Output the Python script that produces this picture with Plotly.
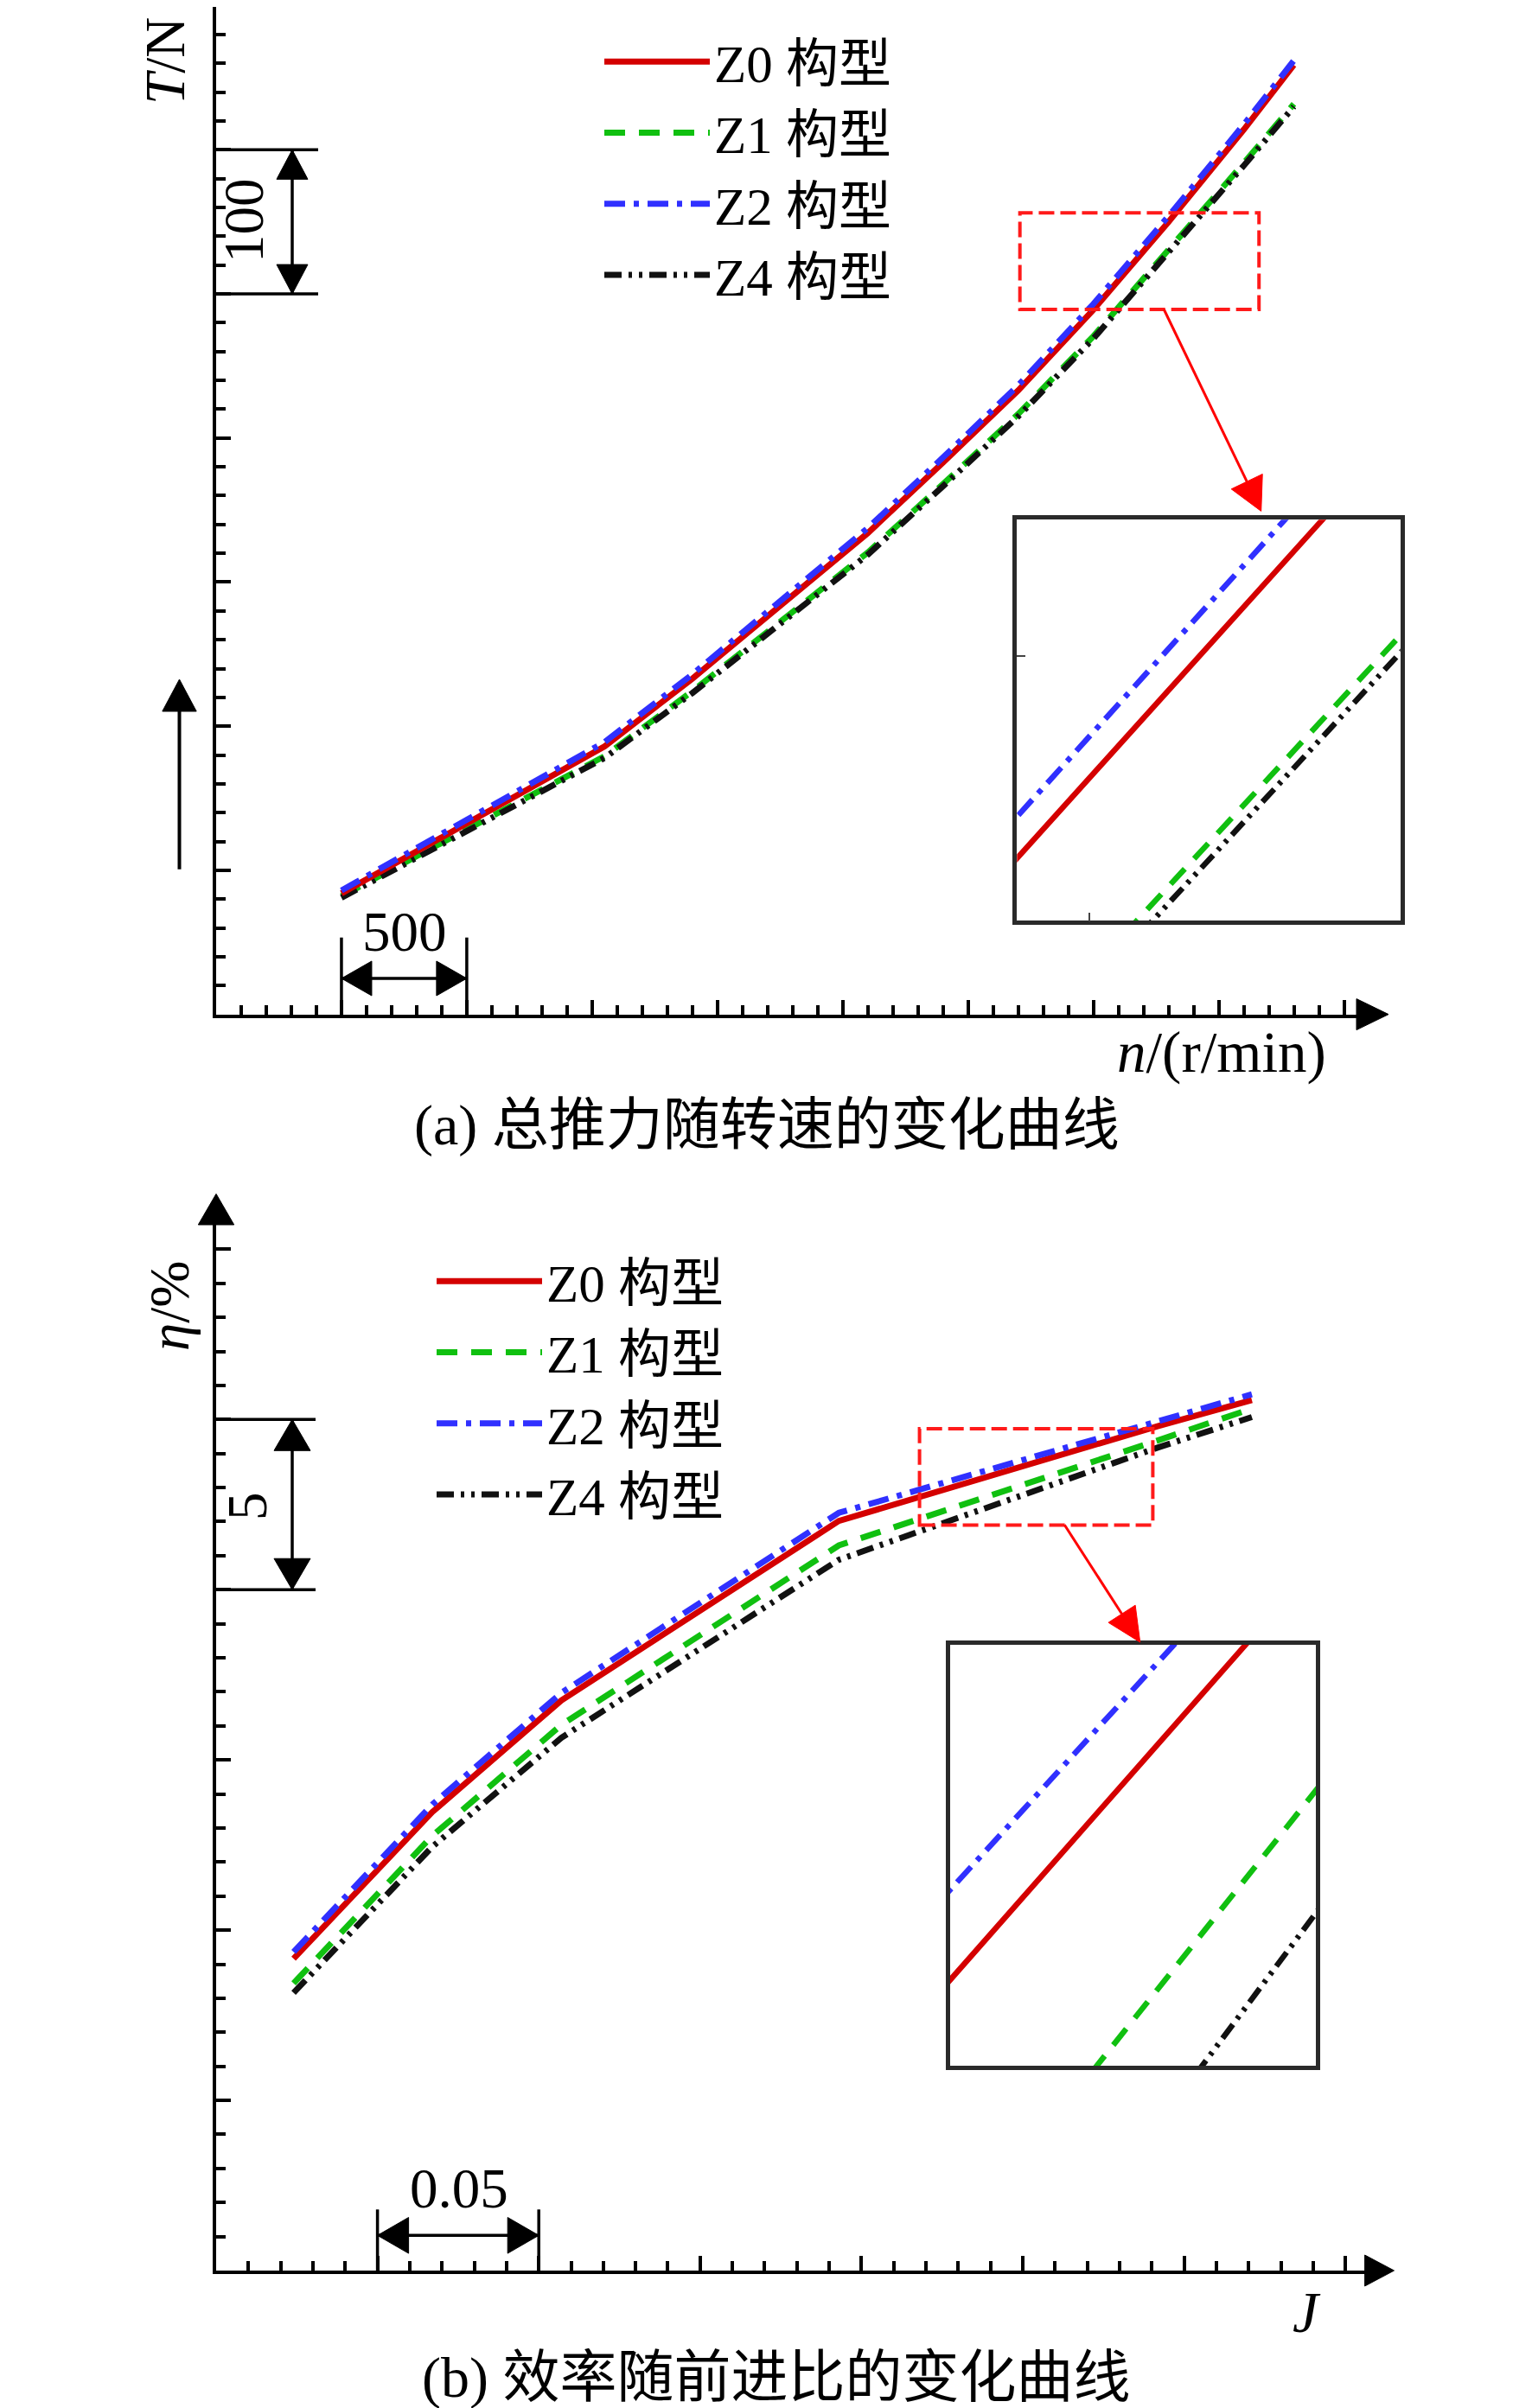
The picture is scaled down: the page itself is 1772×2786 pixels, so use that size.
import math
import plotly.graph_objects as go

# ---------------- data (a): total thrust vs rotational speed ----------------
n_rpm = [1000, 1500, 2050, 2400, 3100, 3400, 3700, 4000, 4300, 4600, 4800]
T_Z0 = [84, 132, 186, 233, 334, 383, 433, 489, 550, 614, 659]
T_Z1 = [82, 128, 179.2, 224.3, 320.5, 368, 416.6, 470.6, 530.2, 590.8, 631.8]
T_Z2 = [86, 134.5, 189, 236, 337.5, 386.5, 436.5, 493, 554, 617.5, 662]
T_Z4 = [81, 127, 178, 223, 319, 366.5, 415, 469, 528.5, 589, 630]

# ---------------- data (b): efficiency vs advance ratio ----------------
J_adv = [0.124, 0.167, 0.207, 0.293, 0.392, 0.421]
eta_Z0 = [44.16, 48.47, 51.75, 57.02, 59.81, 60.57]
eta_Z1 = [43.44, 47.77, 51.03, 56.30, 59.39, 60.32]
eta_Z2 = [44.36, 48.69, 51.97, 57.26, 59.95, 60.74]
eta_Z4 = [43.16, 47.45, 50.65, 55.88, 59.18, 60.07]

names = ["Z0 构型", "Z1 构型", "Z2 构型", "Z4 构型"]
caption_a = "(a) 总推力随转速的变化曲线"
caption_b = "(b) 效率随前进比的变化曲线"

# ---------------- helpers ----------------
W, H = 1772, 2786
def px(x):
    return x / W
def py(y):
    return 1 - y / H

FONT = "'Liberation Serif', 'Times New Roman', 'Noto Sans CJK SC', serif"
FS = 65
LEG_FS = 61

styles = {
    "Z0 构型": dict(color="#d40000", dash="solid", rank=1),
    "Z1 构型": dict(color="#10c010", dash="24px,16px", rank=2),
    "Z2 构型": dict(color="#3030ff", dash="24px,10px,6px,10px", rank=3),
    "Z4 构型": dict(color="#111111", dash="20px,8px,4px,8px,4px,8px", rank=4),
}

top_series = {"Z0 构型": T_Z0, "Z1 构型": T_Z1, "Z2 构型": T_Z2, "Z4 构型": T_Z4}
bot_series = {"Z0 构型": eta_Z0, "Z1 构型": eta_Z1, "Z2 构型": eta_Z2, "Z4 构型": eta_Z4}
draw_order = ["Z1 构型", "Z4 构型", "Z0 构型", "Z2 构型"]

fig = go.Figure()
for nm in draw_order:
    st = styles[nm]
    fig.add_trace(go.Scatter(x=n_rpm, y=top_series[nm], mode="lines", name=nm,
                             line=dict(color=st["color"], dash=st["dash"], width=7),
                             xaxis="x", yaxis="y", legend="legend", legendrank=st["rank"]))
for nm in draw_order:
    st = styles[nm]
    fig.add_trace(go.Scatter(x=J_adv, y=bot_series[nm], mode="lines", name=nm,
                             line=dict(color=st["color"], dash=st["dash"], width=7),
                             xaxis="x2", yaxis="y2", legend="legend2", legendrank=st["rank"]))
# insets (zoomed views of the same data)
for nm in draw_order:
    st = styles[nm]
    fig.add_trace(go.Scatter(x=n_rpm, y=top_series[nm], mode="lines", name=nm, showlegend=False,
                             line=dict(color=st["color"], dash=st["dash"], width=6.5),
                             xaxis="x3", yaxis="y3"))
for nm in draw_order:
    st = styles[nm]
    fig.add_trace(go.Scatter(x=J_adv, y=bot_series[nm], mode="lines", name=nm, showlegend=False,
                             line=dict(color=st["color"], dash=st["dash"], width=6.5),
                             xaxis="x4", yaxis="y4"))

shapes = []
annotations = []

def seg_paper(x0, y0, x1, y1, color="black", width=3.5):
    shapes.append(dict(type="line", xref="paper", yref="paper", x0=px(x0), y0=py(y0),
                       x1=px(x1), y1=py(y1), line=dict(color=color, width=width), layer="above"))

def head_paper(tx, ty, bx, by, half, color="black"):
    dx, dy = tx - bx, ty - by
    L = math.hypot(dx, dy)
    nx, ny = -dy / L, dx / L
    pts = [(tx, ty), (bx + nx * half, by + ny * half), (bx - nx * half, by - ny * half)]
    path = "M " + " L ".join(f"{px(a):.6f},{py(b):.6f}" for a, b in pts) + " Z"
    shapes.append(dict(type="path", xref="paper", yref="paper", path=path,
                       fillcolor=color, line=dict(color=color, width=1), layer="above"))

def arrow_paper(x0, y0, x1, y1, head_len, half, color="black", width=3.5):
    dx, dy = x1 - x0, y1 - y0
    L = math.hypot(dx, dy)
    bx, by = x1 - dx / L * head_len, y1 - dy / L * head_len
    seg_paper(x0, y0, bx, by, color, width)
    head_paper(x1, y1, bx, by, half, color)

def text(x, y, s, size=FS, angle=0):
    annotations.append(dict(xref="paper", yref="paper", x=px(x), y=py(y), text=s, showarrow=False,
                            font=dict(family=FONT, size=size, color="black"), textangle=angle,
                            xanchor="center", yanchor="middle"))

# axis arrowheads
head_paper(1598, 1165.6, 1561, 1165.6, 18)
head_paper(1604.5, 2619, 1570.6, 2619, 18)
head_paper(242, 1373.3, 242, 1409, 20.7)
# upward arrow at the left of chart (a)
arrow_paper(199.5, 997.7, 199.5, 778, 37, 19.7, width=4)

# ---- scale marker "100" (T axis, between 500 and 600 N)
for tv in (500, 600):
    shapes.append(dict(type="line", xref="paper", yref="y", x0=px(242), x1=px(360), y0=tv, y1=tv,
                       line=dict(color="black", width=3.5), layer="above"))
shapes.append(dict(type="line", xref="paper", yref="y", x0=px(330), x1=px(330), y0=500, y1=600,
                   line=dict(color="black", width=3.5), layer="above"))
shapes.append(dict(type="path", xref="paper", yref="y", ysizemode="pixel", yanchor=600,
                   path=f"M {px(330):.6f},0 L {px(312):.6f},-34 L {px(348):.6f},-34 Z",
                   fillcolor="black", line=dict(color="black", width=1), layer="above"))
shapes.append(dict(type="path", xref="paper", yref="y", ysizemode="pixel", yanchor=500,
                   path=f"M {px(330):.6f},0 L {px(312):.6f},34 L {px(348):.6f},34 Z",
                   fillcolor="black", line=dict(color="black", width=1), layer="above"))
text(274, 247, "100", angle=-90)

# ---- scale marker "500" (n axis, between 1000 and 1500 r/min)
for nv in (1000, 1500):
    shapes.append(dict(type="line", xref="x", yref="paper", x0=nv, x1=nv, y0=py(1076.7), y1=py(1165.6),
                       line=dict(color="black", width=3.5), layer="above"))
shapes.append(dict(type="line", xref="x", yref="paper", x0=1000, x1=1500, y0=py(1124), y1=py(1124),
                   line=dict(color="black", width=3.5), layer="above"))
shapes.append(dict(type="path", xref="x", yref="paper", xsizemode="pixel", xanchor=1000,
                   path=f"M 0,{py(1124):.6f} L 35,{py(1104):.6f} L 35,{py(1144):.6f} Z",
                   fillcolor="black", line=dict(color="black", width=1), layer="above"))
shapes.append(dict(type="path", xref="x", yref="paper", xsizemode="pixel", xanchor=1500,
                   path=f"M 0,{py(1124):.6f} L -35,{py(1104):.6f} L -35,{py(1144):.6f} Z",
                   fillcolor="black", line=dict(color="black", width=1), layer="above"))
text(460, 1070, "500")

# ---- scale marker "5" (eta axis, between 55 and 60 %)
for ev in (55, 60):
    shapes.append(dict(type="line", xref="paper", yref="y2", x0=px(242), x1=px(357), y0=ev, y1=ev,
                       line=dict(color="black", width=3.5), layer="above"))
shapes.append(dict(type="line", xref="paper", yref="y2", x0=px(330), x1=px(330), y0=55, y1=60,
                   line=dict(color="black", width=3.5), layer="above"))
shapes.append(dict(type="path", xref="paper", yref="y2", ysizemode="pixel", yanchor=60,
                   path=f"M {px(330):.6f},0 L {px(309):.6f},-36 L {px(351):.6f},-36 Z",
                   fillcolor="black", line=dict(color="black", width=1), layer="above"))
shapes.append(dict(type="path", xref="paper", yref="y2", ysizemode="pixel", yanchor=55,
                   path=f"M {px(330):.6f},0 L {px(309):.6f},36 L {px(351):.6f},36 Z",
                   fillcolor="black", line=dict(color="black", width=1), layer="above"))
text(278, 1735, "5", angle=-90)

# ---- scale marker "0.05" (J axis, between 0.15 and 0.20)
for jv in (0.15, 0.20):
    shapes.append(dict(type="line", xref="x2", yref="paper", x0=jv, x1=jv, y0=py(2548.3), y1=py(2619),
                       line=dict(color="black", width=3.5), layer="above"))
shapes.append(dict(type="line", xref="x2", yref="paper", x0=0.15, x1=0.20, y0=py(2578.3), y1=py(2578.3),
                   line=dict(color="black", width=3.5), layer="above"))
shapes.append(dict(type="path", xref="x2", yref="paper", xsizemode="pixel", xanchor=0.15,
                   path=f"M 0,{py(2578.3):.6f} L 36,{py(2557.5):.6f} L 36,{py(2599.1):.6f} Z",
                   fillcolor="black", line=dict(color="black", width=1), layer="above"))
shapes.append(dict(type="path", xref="x2", yref="paper", xsizemode="pixel", xanchor=0.20,
                   path=f"M 0,{py(2578.3):.6f} L -36,{py(2557.5):.6f} L -36,{py(2599.1):.6f} Z",
                   fillcolor="black", line=dict(color="black", width=1), layer="above"))
text(523, 2524, "0.05")

# ---- red zoom windows and arrows
shapes.append(dict(type="rect", xref="x", yref="y", x0=3707, x1=4661, y0=489.3, y1=556.3,
                   line=dict(color="#ff1a1a", width=4, dash="18px,7px"), layer="above"))
shapes.append(dict(type="rect", xref="x2", yref="y2", x0=0.318, x1=0.3903, y0=56.9, y1=59.73,
                   line=dict(color="#ff1a1a", width=4, dash="18px,7px"), layer="above"))
arrow_paper(1338.3, 350, 1450.7, 583.4, 38, 20, color="#ff0000", width=3)
arrow_paper(1223.3, 1756.3, 1310.7, 1892, 39, 18.5, color="#ff0000", width=3)

# ---- axis titles and captions
text(183, 63, "<i>T</i>/N", angle=-90)
text(1405, 1209, "<i>n</i>/(r/min)", size=67)
text(879, 1294, caption_a, size=66)
text(188, 1503, "<i>η</i>/%", angle=-90)
text(1503, 2667, "<i>J</i>", size=67)
text(890, 2743, caption_b, size=66)

# ---------------- axes ----------------
def main_axis(**kw):
    d = dict(showgrid=False, zeroline=False, showline=True, linecolor="black", linewidth=4,
             ticks="inside", tickcolor="black", tickwidth=3.5, ticklen=17,
             showticklabels=False, fixedrange=True)
    d.update(kw)
    return d

def minor(t0, dt):
    return dict(tick0=t0, dtick=dt, ticks="inside", ticklen=11, tickcolor="black", tickwidth=3.5)

def inset_axis(**kw):
    d = dict(showgrid=False, zeroline=False, showline=True, mirror=True, linecolor="#2a2a2a",
             linewidth=4.5, ticks="inside", ticklen=10, tickcolor="#444", tickwidth=2,
             showticklabels=False, fixedrange=True)
    d.update(kw)
    return d

layout = dict(
    width=W, height=H, margin=dict(l=0, r=0, t=0, b=0),
    paper_bgcolor="white", plot_bgcolor="white",
    font=dict(family=FONT, size=FS, color="black"),
    xaxis=main_axis(domain=[px(242), px(1561)], range=[500, 5050], anchor="y",
                    tick0=500, dtick=500, minor=minor(500, 100)),
    yaxis=main_axis(domain=[py(1165.6), 1.0], range=[0, 699.2], anchor="x",
                    tick0=0, dtick=100, minor=minor(0, 20)),
    xaxis2=main_axis(domain=[px(242), px(1570.6)], range=[0.1, 0.456], anchor="y2",
                     tick0=0.1, dtick=0.05, minor=minor(0.1, 0.01)),
    yaxis2=main_axis(domain=[py(2619), py(1409)], range=[35, 65.72], anchor="x2",
                     tick0=35, dtick=5, minor=minor(35, 1)),
    xaxis3=inset_axis(domain=[px(1168.3), px(1611.7)], range=[4020, 4221], anchor="y3",
                      tickvals=[4058]),
    yaxis3=inset_axis(domain=[py(1057.3), py(593.3)], range=[487.06, 525.63], anchor="x3",
                      tickvals=[512.5]),
    xaxis4=inset_axis(domain=[px(1091), px(1514)], range=[0.318, 0.35312], anchor="y4",
                      ticks=""),
    yaxis4=inset_axis(domain=[py(2382), py(1894.5)], range=[57.52, 58.525], anchor="x4",
                      ticks=""),
    legend=dict(x=px(686), y=py(17), xanchor="left", yanchor="top",
                font=dict(family=FONT, size=LEG_FS, color="black"), itemwidth=122,
                bgcolor="rgba(0,0,0,0)", borderwidth=0, traceorder="normal"),
    legend2=dict(x=px(492), y=py(1428), xanchor="left", yanchor="top",
                 font=dict(family=FONT, size=LEG_FS, color="black"), itemwidth=122,
                 bgcolor="rgba(0,0,0,0)", borderwidth=0, traceorder="normal"),
    shapes=shapes,
    annotations=annotations,
    showlegend=True,
)
fig.update_layout(**layout)
fig.write_html("out.html", config={"displayModeBar": False})
